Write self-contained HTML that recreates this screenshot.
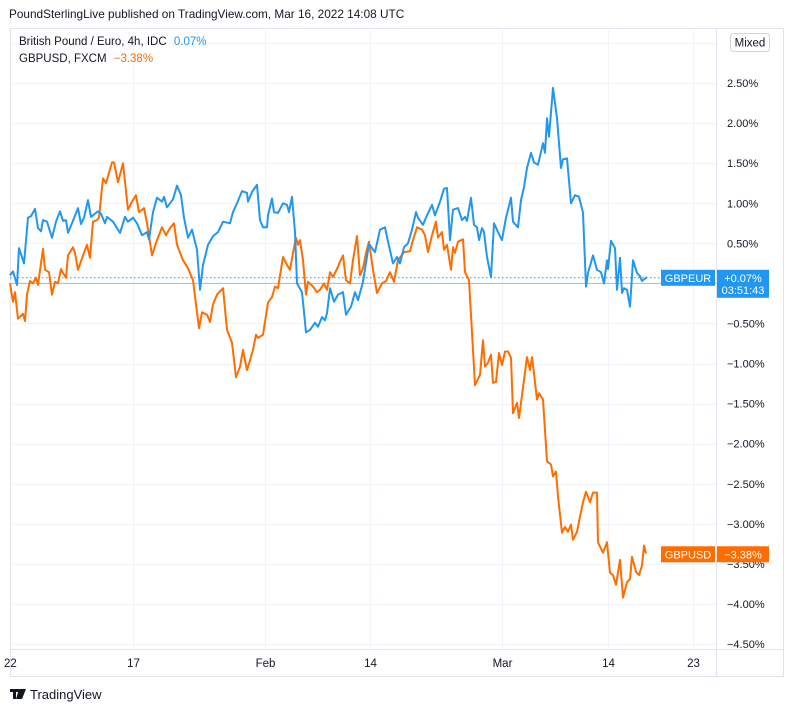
<!DOCTYPE html>
<html><head><meta charset="utf-8"><style>
body{margin:0;width:794px;height:712px;background:#fff;overflow:hidden;font-family:"Liberation Sans",sans-serif}
svg{position:absolute;left:0;top:0}
</style></head><body>
<svg width="794" height="712">
<text x="9" y="18" font-size="11.8" fill="#131722">PoundSterlingLive published on TradingView.com, Mar 16, 2022 14:08 UTC</text>
<rect x="10.5" y="28.5" width="773" height="648" fill="none" stroke="#e0e3eb"/>
<g id="grid"></g>
<line x1="10" y1="649.5" x2="784" y2="649.5" stroke="#e0e3eb"/>
<line x1="716.5" y1="28" x2="716.5" y2="677" stroke="#e0e3eb"/>
<g id="yticks"></g>
<g id="xticks"></g>
<g id="series"></g>
<text x="19" y="45" font-size="11.5" fill="#131722">British Pound / Euro, 4h, IDC <tspan fill="#2196f3" dx="4">0.07%</tspan></text>
<text x="19" y="62" font-size="11.5" fill="#131722">GBPUSD, FXCM <tspan fill="#ff6d00" dx="4">−3.38%</tspan></text>
<rect x="730.5" y="33.5" width="39" height="18" rx="3" fill="#fff" stroke="#d1d4dc"/>
<text x="750" y="46.5" font-size="11.5" fill="#131722" text-anchor="middle">Mixed</text>
<g id="labels"></g>
<g>
<path d="M10 689h9v3h-3v7h-3v-7h-3zM19 689h3l-3 10h-3zM22 689h4l-4 10h-3z" fill="#131722"/>
<text x="30" y="699" font-size="13" fill="#131722">TradingView</text>
</g>
</svg>
<script>
const eurT=[0,1.5,3.5,4.5,7,9,10.5,12.5,14,15.5,16.5,18.5,21,23,25,26.5,28,29,31,34,35.5,37,39,40.5,44,45.5,47.5,48.5,51.5,55,57.5,59,61.5,63.5,66,68.5,69.5,71.5,73.5,76,77,78.5,81.5,83.5,85.5,87,89,91,93.5,95,96.5,99,101.5,104,106.5,110,111.5,113.5,116,118.5,119,121,123.5,125,126.5,128.5,129,131,132,134,136.5,138.5,139.5,141,142.5,143.5,146,148,150,152.5,154,156,157.5,158.5,160,162,164,166.5,168,170.5,172.5,174,176.5,179.5,182.5,185,187.5,189,191.5,193.5,195,197,199,201,203,204,206.5,208.5,211,212.5,215,217,218.5,220,221.5,224,226,227.5,228.5,230.5,232,233.5,234.5,236,237,238.5,240.5,242,244,246,248,250.5,251.5,254,255.5,257,258.5,260.5,262,264,266.5,267.5,268.5,269.5,271.5,273.5,275.5,276.5,278.5,280.5,282.5,284.5,286.5,288,289,291.5,293.5,295.5,297,298.5,299,300.5,302.5,303.5,305,306,307,308.5,310,311.5,313.5,315,316,318.5];
const eurV=[0.10,0.15,-0.02,0.44,0.25,0.82,0.84,0.93,0.69,0.65,0.79,0.77,0.57,0.77,0.90,0.78,0.79,0.63,0.75,0.94,0.74,0.82,1.04,0.83,0.90,0.87,0.75,0.83,0.77,0.63,0.83,0.77,0.82,0.75,0.60,0.64,0.55,0.89,1.07,1.02,1.08,0.95,1.05,1.22,1.10,0.82,0.57,0.67,0.42,-0.08,0.23,0.48,0.59,0.64,0.77,0.75,0.89,1.00,1.15,1.13,1.02,1.14,1.23,0.79,0.70,0.70,0.85,1.06,0.89,0.88,1.00,0.98,0.89,1.08,0.64,0.00,-0.11,-0.61,-0.58,-0.49,-0.54,-0.42,-0.46,-0.37,-0.06,-0.23,-0.14,-0.11,-0.39,-0.29,-0.11,-0.21,0.02,0.49,0.39,0.67,0.70,0.52,0.25,0.33,0.25,0.45,0.50,0.67,0.89,0.82,0.73,0.85,0.98,0.85,1.02,1.18,1.19,0.54,0.92,0.94,0.79,0.83,0.78,1.07,0.73,0.70,0.54,0.69,0.64,0.33,0.08,0.75,0.64,0.54,0.82,1.07,0.77,0.70,1.04,1.20,1.44,1.63,1.51,1.48,1.75,1.63,2.06,1.83,2.44,2.06,1.44,1.55,1.56,1.00,1.10,1.08,0.88,-0.04,0.13,0.35,0.17,0.14,0.00,0.29,0.18,0.53,0.44,-0.08,0.32,-0.12,-0.06,-0.08,-0.29,0.29,0.13,0.09,0.03,0.08];
const usdT=[0,1.5,2.5,4,6.5,7.5,8.5,10,11.5,13,14,16.5,17.5,19.5,21,22.5,24,25.5,26.5,28,29,31.5,32.5,34,36.5,38.5,40,41.5,43.5,44.5,46.5,48,51,52,54,56.5,59,61,63,64.5,67,68.5,71,73.5,76,78,80,82,83.5,86.5,89,91.5,94.5,96,98.5,100,101.5,103.5,106.5,108.5,111,113,115,116.5,118.5,120,121.5,123,124,126.5,129,131,132.5,134,136.5,138.5,140,141.5,143,144,145,146.5,148,149,151.5,153.5,155,157,158.5,160,161.5,163.5,165,166.5,168,170,171.5,173.5,175,176.5,178,179.5,181.5,183.5,186,188,190,192,194,197,200,201.5,203.5,206,207.5,209,211,213,214,216,217,218.5,220.5,221.5,222.5,224,226.5,227.5,229.5,232.5,235,236.5,237.5,239,240.5,241.5,243,244.5,246,247.5,249,250.5,251.5,253.5,254.5,256.5,258.5,260,261,262,263.5,264.5,266.5,268.5,270.5,271.5,273,274,276,277.5,279,280.5,281.5,283.5,285,286.5,288,290,291.5,293.5,294,296.5,298.5,300,301.5,303,305,306.5,308.5,310,311,313,314.5,316,317,318];
const usdV=[0.00,-0.23,-0.11,-0.44,-0.38,-0.47,-0.14,0.03,0.00,0.07,-0.02,0.43,0.17,0.14,-0.14,0.02,0.00,0.18,0.13,0.07,0.35,0.45,0.38,0.17,0.35,0.48,0.32,0.77,0.79,0.82,1.31,1.25,1.51,1.51,1.26,1.50,0.92,1.02,1.10,0.89,0.94,0.75,0.35,0.54,0.70,0.60,0.69,0.75,0.48,0.29,0.19,0.04,-0.56,-0.36,-0.39,-0.48,-0.26,-0.14,-0.06,-0.58,-0.74,-1.17,-1.04,-0.83,-1.08,-0.96,-0.83,-0.64,-0.68,-0.64,-0.24,-0.17,-0.04,-0.06,0.33,0.23,0.17,0.38,0.57,0.48,0.54,0.29,-0.14,0.02,-0.04,-0.11,-0.08,0.00,-0.08,0.14,0.08,0.18,0.27,0.35,0.04,0.00,0.29,0.59,0.10,0.19,0.38,0.52,0.17,-0.12,0.00,0.03,0.14,0.02,0.29,0.39,0.40,0.54,0.70,0.67,0.60,0.39,0.60,0.77,0.57,0.64,0.42,0.48,0.17,0.45,0.38,0.52,0.55,0.14,0.04,-1.27,-1.14,-0.71,-1.04,-0.99,-0.89,-1.24,-1.23,-0.87,-1.02,-0.85,-0.85,-0.93,-1.62,-1.49,-1.68,-1.30,-0.92,-1.08,-0.92,-1.12,-1.45,-1.37,-1.45,-2.22,-2.26,-2.41,-2.35,-2.66,-3.11,-3.04,-3.10,-3.01,-3.20,-3.10,-2.91,-2.73,-2.60,-2.73,-2.61,-2.61,-3.23,-3.36,-3.23,-3.61,-3.64,-3.76,-3.45,-3.92,-3.73,-3.69,-3.41,-3.60,-3.64,-3.52,-3.27,-3.37];
const yTicks=[2.5,2,1.5,1,0.5,-0.5,-1,-1.5,-2,-2.5,-3,-3.5,-4,-4.5];
const xTickLabels=["22","17","Feb","14","Mar","14","23"];
const xTickBars=[0,61.5,127.5,180,246,299,341.5];
const lastEur=0.07, lastUsd=-3.38;

const NS="http://www.w3.org/2000/svg";
const xs=t=>10+t*2;
const ys=v=>283.4-v*80.14;
function mk(tag,attrs,parent){const e=document.createElementNS(NS,tag);for(const k in attrs)e.setAttribute(k,attrs[k]);parent.appendChild(e);return e;}
const grid=document.getElementById('grid'),yt=document.getElementById('yticks'),xt=document.getElementById('xticks'),ser=document.getElementById('series'),lab=document.getElementById('labels');
[3].concat(yTicks).forEach(v=>{
  const y=Math.round(ys(v))+0.5;
  const l=mk('line',{x1:10,x2:716,y1:y,y2:y,stroke:'#f0f3fa'},grid);
  
  
});
yTicks.forEach(v=>{
  const t=mk('text',{x:727,y:ys(v)+4,'font-size':11,fill:'#131722'},yt);
  t.textContent=(v<0?'−':'')+Math.abs(v).toFixed(2)+'%';
  
  
});
const t3=mk('text',{x:752,y:46,'font-size':11,fill:'#131722'},yt);t3.textContent='3';


xTickBars.forEach((b,i)=>{
  const x=Math.round(xs(b))+0.5;
  if(i>0){const l=mk('line',{x1:x,x2:x,y1:28,y2:649,stroke:'#f0f3fa'},grid);
  
  }
  const t=mk('text',{x:i==0?4:x,y:667,'font-size':11.5,fill:'#131722','text-anchor':i==0?'start':'middle'},xt);
  t.textContent=xTickLabels[i];
  
  
});
const zl=mk('line',{x1:10,x2:716,y1:ys(0),y2:ys(0),stroke:'#b2b5be'},ser);


const dl=mk('line',{x1:10,x2:660,y1:ys(lastEur),y2:ys(lastEur),stroke:'#2196f3','stroke-dasharray':'1.5 2.5'},ser);


function line(T,V,color,name){
  const d=T.map((t,i)=>(i?'L':'M')+xs(t).toFixed(1)+' '+ys(V[i]).toFixed(1)).join('');
  const p=mk('path',{d:d,fill:'none',stroke:color,'stroke-width':2,'stroke-linejoin':'round'},ser);
  
  
}
line(usdT,usdV,'#ff6d00','gbpusd-line');
line(eurT,eurV,'#2196f3','gbpeur-line');
function tag(v,name,color,txt,val,sub,nm){
  const y=ys(v);
  const r=mk('rect',{x:661,y:y-8,width:54,height:16,fill:color},lab);
  
  
  const t=mk('text',{x:688,y:y+4,'font-size':11,fill:'#fff','text-anchor':'middle'},lab);t.textContent=txt;
  
  
  const r2=mk('rect',{x:717,y:y-8,width:52,height:sub?28:16,fill:color},lab);
  
  
  const t2=mk('text',{x:743,y:y+4,'font-size':11,fill:'#fff','text-anchor':'middle'},lab);t2.textContent=val;
  
  
  if(sub){const t3=mk('text',{x:743,y:y+16,'font-size':11,fill:'#fff','text-anchor':'middle'},lab);t3.textContent=sub;
  
  }
}
tag(lastEur,'GBPEUR','#2196f3','GBPEUR','+0.07%','03:51:43','gbpeur');
tag(lastUsd,'GBPUSD','#ff6d00','GBPUSD','−3.38%',null,'gbpusd');
</script>
</body></html>
